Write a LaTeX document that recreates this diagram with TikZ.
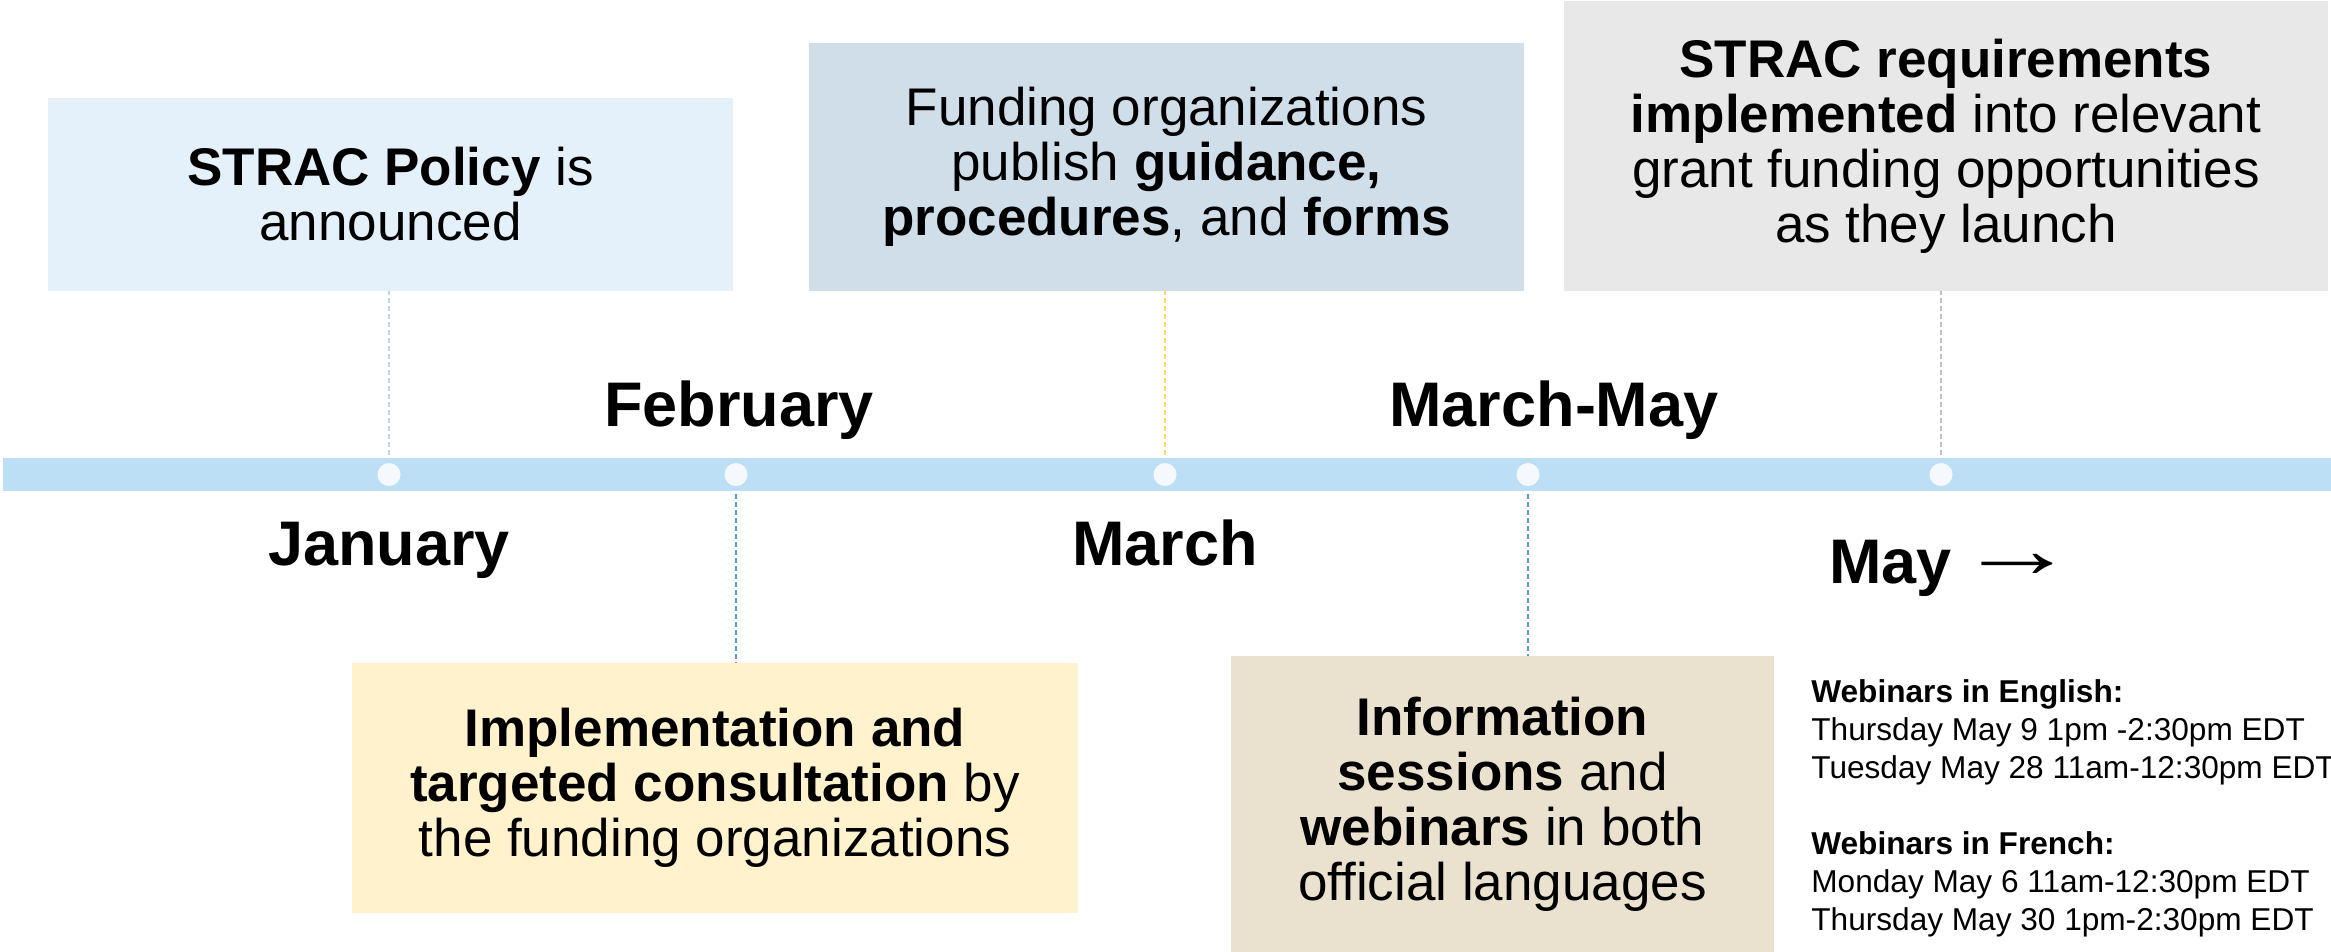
\documentclass[tikz,border=0pt]{standalone}
\usepackage{fontspec}
\usepackage{graphicx}
\setmainfont{Liberation Sans}
\usetikzlibrary{backgrounds}
\definecolor{barblue}{HTML}{BDDFF5}
\definecolor{dotwhite}{HTML}{F5F9FD}
\definecolor{policyblue}{HTML}{E5F1FA}
\definecolor{guideblue}{HTML}{D0DEEA}
\definecolor{reqgrey}{HTML}{E8E8E8}
\definecolor{consultyellow}{HTML}{FFF2CC}
\definecolor{sessiontan}{HTML}{EAE2CF}
\definecolor{linklight}{HTML}{BDD7EE}
\definecolor{linkyellow}{HTML}{FFD966}
\definecolor{linkgrey}{HTML}{BFBFBF}
\definecolor{linkblue}{HTML}{5B9BD5}
\begin{document}
\begin{tikzpicture}[x=0.5pt,y=-0.5pt,
    box/.style={inner sep=0pt,align=center,font=\fontsize{26.5}{27.5}\selectfont},
    month/.style={inner sep=0pt,anchor=base,font=\fontsize{31.5}{33}\selectfont\bfseries},
    dot/.style={circle,fill=dotwhite,inner sep=0pt,minimum size=11.5pt},
    link/.style={dash pattern=on 2.5pt off 1.5pt,line width=0.7pt}]
    \useasboundingbox (0,0) rectangle (2331,952);
    % boxes above the bar
    \node[box,fill=policyblue,minimum width=342.5pt,minimum height=96.5pt] (policy) at (390.5,194.5)
        {\textbf{STRAC Policy} is\\announced};
    \node[box,fill=guideblue,minimum width=357.5pt,minimum height=124pt] (guidance) at (1166.5,167)
        {Funding organizations\\publish \textbf{guidance,}\\\textbf{procedures}, and \textbf{forms}};
    \node[box,fill=reqgrey,minimum width=382pt,minimum height=145pt] (requirements) at (1946,146)
        {\textbf{STRAC requirements}\\\textbf{implemented} into relevant\\grant funding opportunities\\as they launch};
    % boxes below the bar
    \node[box,fill=consultyellow,minimum width=363pt,minimum height=125pt] (consult) at (715,788)
        {\textbf{Implementation and}\\\textbf{targeted consultation} by\\the funding organizations};
    \node[box,fill=sessiontan,minimum width=271.5pt,minimum height=148pt] (sessions) at (1502.5,804)
        {\textbf{Information}\\\textbf{sessions} and\\\textbf{webinars} in both\\official languages};
    % timeline
    \node[fill=barblue,inner sep=0pt,minimum width=1164pt,minimum height=16.5pt] (bar) at (1167,474.5) {};
    \node[dot] (jan) at (389,474.5) {};
    \node[dot] (feb) at (736,474.5) {};
    \node[dot] (mar) at (1165,474.5) {};
    \node[dot] (marmay) at (1528,474.5) {};
    \node[dot] (may) at (1941,474.5) {};
    \begin{pgfonlayer}{background}
        \draw[link,linklight] (jan) -- (jan |- policy.south);
        \draw[link,linkyellow] (mar) -- (mar |- guidance.south);
        \draw[link,linkgrey] (may) -- (may |- requirements.south);
        \draw[link,linkblue] (feb) -- (feb |- consult.north);
        \draw[link,linkblue] (marmay) -- (marmay |- sessions.north);
    \end{pgfonlayer}
    % month labels
    \node[month] (febtext) at (739,427) {February};
    \node[month] (marmaytext) at (1554,427) {March-May};
    \node[month] (jantext) at (389,565) {January};
    \node[month] (martext) at (1165,565) {March};
    \node[month,anchor=base west] (maytext) at (1829,583)
        {May\hspace{3pt}{\mdseries\raisebox{3pt}{\scalebox{1.9}[1.3]{→}}}};
    % webinar dates
    \node[inner sep=0pt,anchor=north west,align=left,font=\fontsize{15.8}{19}\selectfont] (webinars) at (1811,679)
        {\textbf{Webinars in English:}\\
         Thursday May 9 1pm -2:30pm EDT\\
         Tuesday May 28 11am-12:30pm EDT\\[19pt]
         \textbf{Webinars in French:}\\
         Monday May 6 11am-12:30pm EDT\\
         Thursday May 30 1pm-2:30pm EDT};
\end{tikzpicture}
\end{document}
